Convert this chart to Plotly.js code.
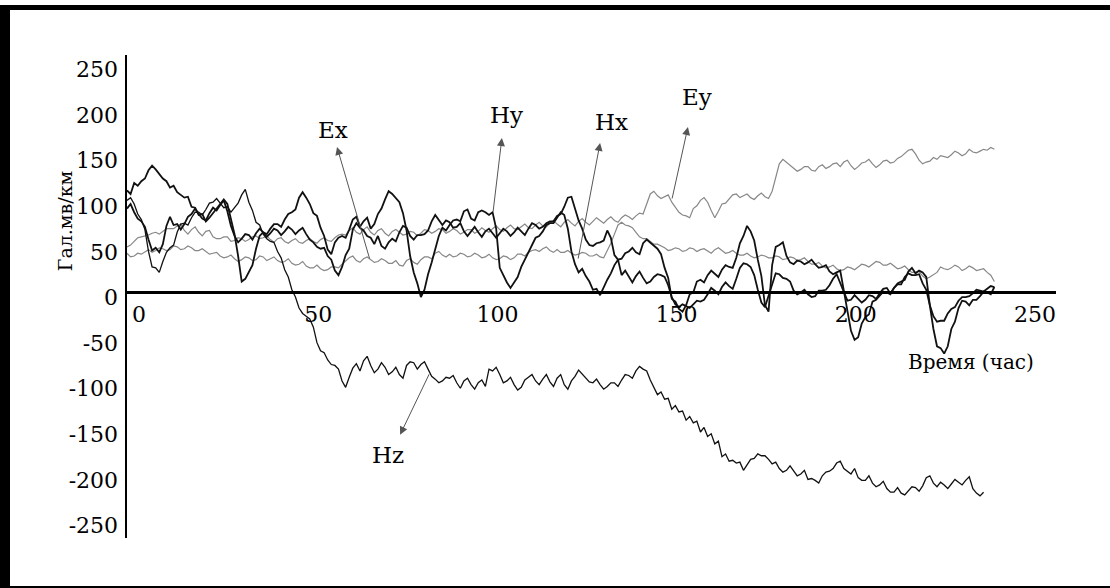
<!DOCTYPE html>
<html>
<head>
<meta charset="utf-8">
<script src="https://cdn.plot.ly/plotly-3.0.1.min.js"></script>
<style>
  html, body { margin: 0; padding: 0; background: #fff; }
  #wrap { position: relative; width: 1110px; height: 588px; overflow: hidden; }
  #chart { position: absolute; left: 0; top: 0; width: 1110px; height: 588px; }
  #frame { position: absolute; left: 0; top: 5px; width: 1110px; height: 583px;
           box-sizing: border-box; border-left: 10px solid #000; border-top: 5px solid #000;
           border-bottom: 2px solid #000; pointer-events: none; }
</style>
</head>
<body>
<div id="wrap"><div id="chart"></div><div id="frame"></div></div>
<script>
// Time, hours
const hours = [0,1,2,3,4,5,6,7,8,9,10,11,12,13,14,15,16,17,18,19,20,21,22,23,24,25,26,27,28,29,
 30,31,32,33,34,35,36,37,38,39,40,41,42,43,44,45,46,47,48,49,50,51,52,53,54,55,56,57,58,59,
 60,61,62,63,64,65,66,67,68,69,70,71,72,73,74,75,76,77,78,79,80,81,82,83,84,85,86,87,88,89,
 90,91,92,93,94,95,96,97,98,99,100,101,102,103,104,105,106,107,108,109,110,111,112,113,114,115,116,117,118,119,
 120,121,122,123,124,125,126,127,128,129,130,131,132,133,134,135,136,137,138,139,140,141,142,143,144,145,146,147,148,149,
 150,151,152,153,154,155,156,157,158,159,160,161,162,163,164,165,166,167,168,169,170,171,172,173,174,175,176,177,178,179,
 180,181,182,183,184,185,186,187,188,189,190,191,192,193,194,195,196,197,198,199,200,201,202,203,204,205,206,207,208,209,
 210,211,212,213,214,215,216,217,218,219,220,221,222,223,224,225,226,227,228,229,230,231,232,233,234,235,236,237,238,239,
 240,241,242];

const Ey = [50,52,56,60,61,62,63,65,66,64,67,70,70,70,73,75,68,64,69,72,66,62,67,68,61,59,59,61,61,56,
 57,60,59,56,58,61,62,59,60,62,58,55,59,60,56,54,57,59,55,54,57,59,56,54,58,60,57,56,60,63,
 64,63,68,71,66,64,69,72,66,63,68,70,65,62,67,69,66,63,64,67,66,62,65,69,68,65,67,70,69,65,
 67,70,68,64,66,69,69,65,67,71,68,66,70,73,69,67,71,74,70,69,72,75,71,70,74,77,73,72,76,79,
 75,72,77,80,76,73,78,81,77,74,78,82,79,76,80,83,79,77,82,85,83,80,84,87,86,97,108,111,106,103,
 105,107,99,94,88,85,84,82,92,95,101,104,99,90,82,89,97,98,103,107,108,104,106,108,104,102,106,109,105,103,
 111,125,141,146,143,139,136,133,135,138,138,134,133,138,140,136,138,141,142,138,143,145,139,135,138,142,143,146,141,137,
 140,144,145,142,143,147,149,153,156,157,152,145,141,143,144,148,146,150,149,148,151,155,153,150,152,157,154,153,155,157,
 156,159,157];

const Ex = [43,39,40,43,42,45,47,44,46,49,48,46,47,51,50,47,48,51,49,46,46,48,45,42,43,44,40,38,39,41,
 37,34,36,39,38,35,36,40,39,35,37,39,35,33,34,37,32,30,31,34,29,27,27,30,26,24,25,28,28,27,
 31,35,38,40,35,33,37,39,36,33,34,37,35,32,32,35,30,29,35,37,33,31,36,39,39,37,43,45,41,39,
 42,39,40,43,42,39,40,43,41,38,39,42,38,36,37,40,39,36,38,42,42,40,44,46,47,45,48,50,46,44,
 47,44,44,46,43,41,42,44,43,40,40,42,39,38,46,54,64,74,77,74,73,71,66,61,59,59,56,53,53,51,
 49,46,47,49,48,45,46,49,48,45,47,48,45,43,47,49,46,43,44,46,43,41,41,43,40,38,39,41,40,38,
 38,40,39,36,37,39,38,35,36,38,34,31,31,33,29,27,28,30,26,24,25,28,27,25,28,31,30,28,31,34,
 33,30,30,32,29,26,27,29,25,22,22,23,18,15,17,20,22,28,26,25,27,30,28,24,26,29,27,24,25,26,
 22,19,12];

const Hz = [101,104,97,86,80,69,45,28,27,22,34,44,49,52,66,75,76,74,82,88,88,85,91,98,99,103,98,93,94,88,
 93,98,107,113,99,90,77,74,64,59,56,55,45,38,25,17,3,-5,-17,-23,-26,-29,-38,-55,-64,-66,-74,-79,-80,-84,
 -97,-104,-93,-83,-78,-86,-75,-70,-80,-88,-84,-77,-82,-90,-87,-82,-90,-94,-80,-76,-77,-84,-79,-76,-84,-92,-95,-99,-97,-93,
 -94,-91,-99,-105,-97,-94,-101,-106,-99,-96,-103,-84,-86,-82,-90,-99,-97,-93,-101,-107,-104,-96,-93,-90,-97,-101,-95,-90,-98,-103,
 -94,-90,-101,-106,-97,-92,-85,-89,-94,-98,-99,-95,-101,-106,-103,-99,-99,-103,-96,-90,-91,-94,-86,-81,-84,-86,-96,-105,-112,-109,
 -117,-116,-128,-124,-131,-130,-140,-136,-143,-141,-153,-148,-158,-155,-166,-163,-180,-177,-185,-184,-187,-186,-195,-189,-183,-182,-177,-179,-179,-183,
 -188,-186,-193,-197,-195,-190,-196,-201,-199,-195,-205,-204,-206,-209,-201,-197,-196,-193,-187,-185,-193,-196,-199,-193,-203,-206,-206,-201,-209,-213,
 -211,-207,-215,-219,-219,-214,-220,-222,-217,-213,-214,-218,-212,-203,-201,-209,-213,-208,-211,-215,-210,-205,-208,-211,-206,-202,-215,-220,-223,-219,
 null,null,null];

const Hx = [92,97,88,81,78,72,58,46,49,44,53,73,83,74,75,69,75,83,86,92,86,81,79,87,93,90,96,101,89,73,
 62,55,59,64,63,58,65,70,66,61,65,70,68,63,67,72,69,64,68,71,64,58,55,50,48,49,40,36,24,19,
 28,41,48,69,76,71,68,62,60,53,62,51,48,55,59,56,66,73,71,62,58,63,63,64,68,78,85,79,74,79,
 77,71,72,76,67,62,67,72,66,61,67,70,65,60,65,70,67,62,66,71,67,63,70,76,74,70,72,76,78,78,
 84,86,94,104,105,92,79,70,58,52,51,54,55,57,68,60,41,36,37,43,45,49,44,42,54,58,55,51,48,42,
 27,16,-7,-10,-18,-21,-14,-2,0,12,14,11,19,24,21,17,25,30,28,27,38,54,62,73,67,57,36,18,-14,-21,
 30,50,52,55,40,33,31,35,34,31,33,36,31,27,28,30,23,20,22,24,2,-18,-42,-52,-49,-34,-27,-24,-10,-8,
 -3,1,0,-2,5,10,12,14,23,27,21,24,22,17,-14,-40,-59,-61,-67,-59,-40,-32,-17,-9,-10,-14,-8,-8,-4,1,
 0,-2,6];

const Hy = [112,108,120,117,122,125,134,139,135,130,125,122,115,117,110,107,104,105,94,93,85,86,78,82,87,93,98,102,97,82,
 64,40,12,15,22,30,48,62,66,64,70,75,75,72,80,86,88,91,104,110,104,97,87,84,71,62,47,42,55,60,
 62,60,69,80,83,72,78,82,70,75,86,92,102,111,108,104,99,87,68,40,22,10,-5,3,20,33,49,62,71,68,
 74,79,80,78,89,91,81,79,88,90,88,85,88,70,27,19,11,5,11,17,28,36,45,53,60,62,67,74,76,76,
 82,88,85,70,45,31,22,26,18,12,3,4,-3,6,14,21,30,36,19,24,17,11,18,23,16,10,12,17,20,19,
 17,8,-5,-13,-16,-13,-15,-17,-13,-9,-10,-8,-2,5,2,-2,6,11,7,4,15,27,32,31,28,19,3,-11,-16,-4,
 10,21,20,16,15,12,2,-2,0,3,-2,-5,-4,2,2,3,8,15,20,10,0,-9,-8,-3,-7,-11,-8,-3,-4,-7,
 -1,4,5,-1,5,9,9,17,21,19,19,20,10,3,-14,-26,-32,-31,-31,-23,-18,-16,-9,-5,-5,-4,-1,3,2,1,
 4,7,6];

const yTicks = [-250,-200,-150,-100,-50,0,50,100,150,200,250];
const xTicks = [0,50,100,150,200,250];

const seriesLabels = ['Ex','Hy','Hx','Ey','Hz'];
// label positions and arrow (head / tail) positions in data units
const labelX = [57.5,106,135.3,159,72.8];
const labelY = [178,195,187,214,-178];
const headX = [58.6,104.6,132,156.5,76.2];
const headY = [159.5,169.4,164,181.4,-156];
const tailX = [67.8,102.1,125.8,152,84.5];
const tailY = [35.6,87.2,35.6,101.4,-88];

const FONT = 'DejaVu Serif, Liberation Serif, serif';
const gray = '#878787';

const traces = [
  {x: hours, y: Ex, name: 'Ex', line: {color: gray, width: 1.2}},
  {x: hours, y: Ey, name: 'Ey', line: {color: gray, width: 1.2}},
  {x: hours, y: Hz, name: 'Hz', line: {color: '#111', width: 1.3}},
  {x: hours, y: Hx, name: 'Hx', line: {color: '#111', width: 1.8}},
  {x: hours, y: Hy, name: 'Hy', line: {color: '#111', width: 1.8}}
].map(t => Object.assign({type: 'scatter', mode: 'lines', hoverinfo: 'skip', connectgaps: false}, t));

const annotations = [];
for (let i = 0; i < seriesLabels.length; i++) {
  annotations.push({x: labelX[i], y: labelY[i], xref: 'x', yref: 'y', text: seriesLabels[i],
    showarrow: false, font: {family: FONT, size: 23, color: '#000'}});
  annotations.push({x: headX[i], y: headY[i], xref: 'x', yref: 'y', text: '',
    showarrow: true, ax: tailX[i], ay: tailY[i], axref: 'x', ayref: 'y',
    arrowhead: 2, arrowsize: 1.6, arrowwidth: 1, arrowcolor: '#555', standoff: 0, startstandoff: 0});
}
annotations.push({xref: 'paper', yref: 'paper', x: -0.0807, y: 0.656, text: 'Гал.мв/км',
  textangle: -90, showarrow: false, font: {family: FONT, size: 19, color: '#000'}});
annotations.push({xref: 'paper', yref: 'paper', x: 0.978, y: 0.364, text: 'Время (час)',
  showarrow: false, font: {family: FONT, size: 20, color: '#000'}});

const layout = {
  width: 1110, height: 588,
  margin: {l: 127, r: 54, t: 55, b: 50},
  paper_bgcolor: '#fff', plot_bgcolor: '#fff',
  showlegend: false, hovermode: false,
  font: {family: FONT, size: 22, color: '#000'},
  xaxis: {
    range: [0, 259.2], anchor: 'free', position: 0.5083,
    showline: true, linecolor: '#000', linewidth: 2.5,
    showgrid: false, zeroline: false, ticks: '',
    tickmode: 'array', tickvals: xTicks, ticktext: xTicks.map(String),
    ticklabelshift: 12, ticklabelstandoff: 2,
    tickfont: {family: FONT, size: 22, color: '#000'}
  },
  yaxis: {
    range: [-269.2, 260.4],
    showline: true, linecolor: '#000', linewidth: 2.5,
    showgrid: false, zeroline: false, ticks: '',
    tickmode: 'array', tickvals: yTicks, ticktext: yTicks.map(String),
    ticklabelshift: 5, ticklabelstandoff: 2,
    tickfont: {family: FONT, size: 22, color: '#000'}
  },
  annotations: annotations
};

Plotly.newPlot('chart', traces, layout, {displayModeBar: false, staticPlot: true});
</script>
</body>
</html>
